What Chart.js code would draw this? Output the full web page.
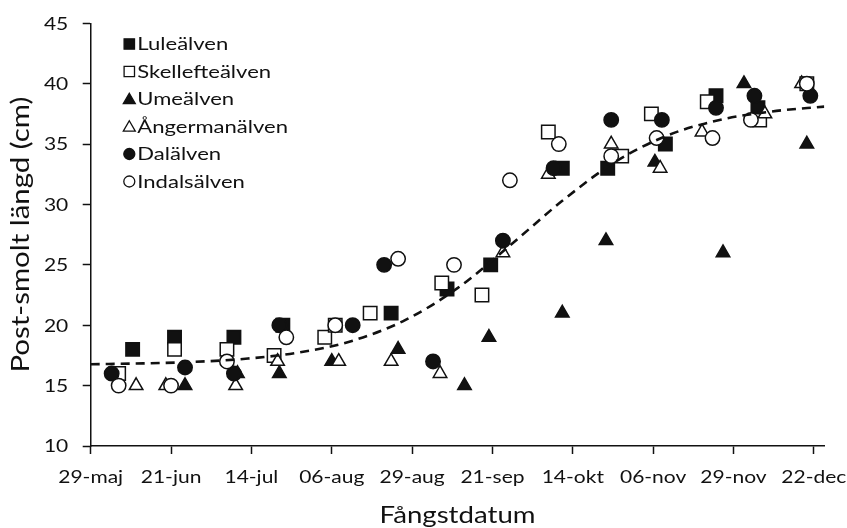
<!DOCTYPE html>
<html>
<head>
<meta charset="utf-8">
<script src="https://cdn.jsdelivr.net/npm/chart.js@4.4.1/dist/chart.umd.min.js"></script>
<style>
  html, body { margin: 0; padding: 0; background: #fff; }
  #wrap { width: 847px; height: 528px; }
</style>
</head>
<body>
<div id="wrap"><canvas id="c" width="847" height="528"></canvas></div>
<script>
// Catch dates, counted in days from 29 May
const xTickDays = [0, 23, 46, 69, 92, 115, 138, 161, 184, 207];
const xTickLabels = ['29-maj', '21-jun', '14-jul', '06-aug', '29-aug', '21-sep', '14-okt', '06-nov', '29-nov', '22-dec'];
const yTickValues = [10, 15, 20, 25, 30, 35, 40, 45];

// Post-smolt length (cm) per river: [day, length]
const lulealven = [[12,18],[24,19],[41,19],[55,20],[86,21],[102,23],[114.5,25],[135,33],[148,33],[164.5,35],[179,39],[191,38]];
const skelleftealven = [[8,16],[24,18],[39,18],[52.5,17.5],[67,19],[70,20],[80,21],[100.5,23.5],[112,22.5],[131,36],[152,34],[160.5,37.5],[176.5,38.5],[191.5,37],[205,40]];
const umealven = [[27,15],[42,16],[54,16],[69,17],[88,18],[107,15],[114,19],[135,21],[147.5,27],[161.5,33.5],[181,26],[187,40],[205,35]];
const angermanalven = [[13,15],[21.5,15],[41.5,15],[53.5,17],[71,17],[86,17],[100,16],[118,26],[131,32.5],[149,35],[163,33],[175,36],[193,37.5],[203.5,40]];
const dalalven = [[6,16],[27,16.5],[41,16],[54,20],[75,20],[84,25],[98,17],[118,27],[132.5,33],[149,37],[163.5,37],[179,38],[190,39],[206,39]];
const indalsalven = [[8,15],[23,15],[39,17],[56,19],[70,20],[88,25.5],[104,25],[120,32],[134,35],[149,34],[162,35.5],[178,35.5],[189,37],[205,40]];

// Growth curve (dashed), sampled along its course
const curveDays = [0, 15, 30, 45, 60, 75, 90, 105, 120, 135, 150, 165, 180, 195, 210];
const curveLengths = [16.77, 16.84, 16.97, 17.24, 17.76, 18.72, 20.42, 23.07, 26.6, 30.3, 33.5, 35.7, 37.0, 37.7, 38.1];

const seriesNames = ['Luleälven', 'Skellefteälven', 'Umeälven', 'Ångermanälven', 'Dalälven', 'Indalsälven'];
const xTitle = 'Fångstdatum';
const yTitle = 'Post-smolt längd (cm)';

const INK = '#111';
const FONT = 'Lato';

const styles = [
  { shape: 'rect', fill: INK, radius: 9.5 },
  { shape: 'rect', fill: '#fff', radius: 9.5 },
  { shape: 'triangle', fill: INK, radius: 7.8 },
  { shape: 'triangle', fill: '#fff', radius: 7.8 },
  { shape: 'circle', fill: INK, radius: 7.2 },
  { shape: 'circle', fill: '#fff', radius: 7.2 }
];
const seriesData = [lulealven, skelleftealven, umealven, angermanalven, dalalven, indalsalven];

const datasets = seriesData.map((arr, i) => ({
  label: seriesNames[i],
  type: 'scatter',
  data: arr.map(p => ({ x: p[0], y: p[1] })),
  pointStyle: styles[i].shape,
  pointRadius: styles[i].radius,
  pointHoverRadius: styles[i].radius,
  backgroundColor: styles[i].fill,
  borderColor: INK,
  pointBorderWidth: 1.5,
  showLine: false,
  order: 6 - i
}));

datasets.push({
  label: 'kurva',
  type: 'line',
  data: curveDays.map((d, i) => ({ x: d, y: curveLengths[i] })),
  borderColor: INK,
  borderWidth: 2.6,
  borderDash: [9, 6],
  pointRadius: 0,
  fill: false,
  cubicInterpolationMode: 'monotone',
  order: 0
});

// Text drawn slightly widened horizontally
function txt(ctx, s, x, y, align, size, stretch, angle) {
  ctx.save();
  ctx.translate(x, y);
  if (angle) ctx.rotate(angle);
  ctx.scale(stretch, 1);
  ctx.font = size + 'px ' + FONT;
  ctx.fillStyle = INK;
  ctx.textAlign = align;
  ctx.textBaseline = 'alphabetic';
  ctx.fillText(s, 0, 0);
  ctx.restore();
}

function marker(ctx, shape, fill, x, y) {
  ctx.save();
  ctx.fillStyle = fill;
  ctx.strokeStyle = INK;
  ctx.lineWidth = 1.3;
  ctx.beginPath();
  if (shape === 'rect') {
    ctx.rect(x - 5.2, y - 5.2, 10.4, 10.4);
  } else if (shape === 'triangle') {
    ctx.moveTo(x, y - 5.7);
    ctx.lineTo(x + 6, y + 4.7);
    ctx.lineTo(x - 6, y + 4.7);
    ctx.closePath();
  } else {
    ctx.arc(x, y, 5.5, 0, Math.PI * 2);
  }
  ctx.fill();
  ctx.stroke();
  ctx.restore();
}

const labelsPlugin = {
  id: 'labels',
  afterDraw(chart) {
    const ctx = chart.ctx;
    const xs = chart.scales.x, ys = chart.scales.y;
    const area = chart.chartArea;
    yTickValues.forEach(v => {
      txt(ctx, String(v), area.left - 22.4, ys.getPixelForValue(v) + 6.3, 'right', 17.5, 1.2);
    });
    xTickDays.forEach((d, i) => {
      txt(ctx, xTickLabels[i], xs.getPixelForValue(d), 483.3, 'center', 17.5, 1.2);
    });
    txt(ctx, xTitle, (area.left + area.right) / 2, 523.3, 'center', 23, 1.2);
    txt(ctx, yTitle, 29.3, (area.top + area.bottom) / 2, 'center', 24.5, 1.2, -Math.PI / 2);
    seriesNames.forEach((n, i) => {
      const cy = 44 + i * 27.5;
      marker(ctx, styles[i].shape, styles[i].fill, 129.3, cy);
      txt(ctx, n, 137.3, cy + 6.3, 'left', 17.5, 1.26);
    });
  }
};

new Chart(document.getElementById('c'), {
  data: { datasets },
  options: {
    responsive: false,
    animation: false,
    devicePixelRatio: 1,
    layout: { padding: { top: 23.3, right: 22.7, left: 0, bottom: 0 } },
    plugins: { legend: { display: false }, tooltip: { enabled: false } },
    scales: {
      x: {
        type: 'linear',
        min: 0,
        max: 210,
        afterBuildTicks: s => { s.ticks = xTickDays.map(v => ({ value: v })); },
        afterFit: s => { s.height = 528 - 446; },
        ticks: { display: false },
        grid: { drawOnChartArea: false, drawTicks: true, tickLength: 8, tickColor: INK, tickWidth: 1.5 },
        border: { display: true, color: INK, width: 1.5 }
      },
      y: {
        type: 'linear',
        min: 10,
        max: 45,
        afterBuildTicks: s => { s.ticks = yTickValues.map(v => ({ value: v })); },
        afterFit: s => { s.width = 90.7; },
        ticks: { display: false },
        grid: { drawOnChartArea: false, drawTicks: true, tickLength: 8, tickColor: INK, tickWidth: 1.5 },
        border: { display: true, color: INK, width: 1.5 }
      }
    }
  },
  plugins: [labelsPlugin]
});
</script>
</body>
</html>
